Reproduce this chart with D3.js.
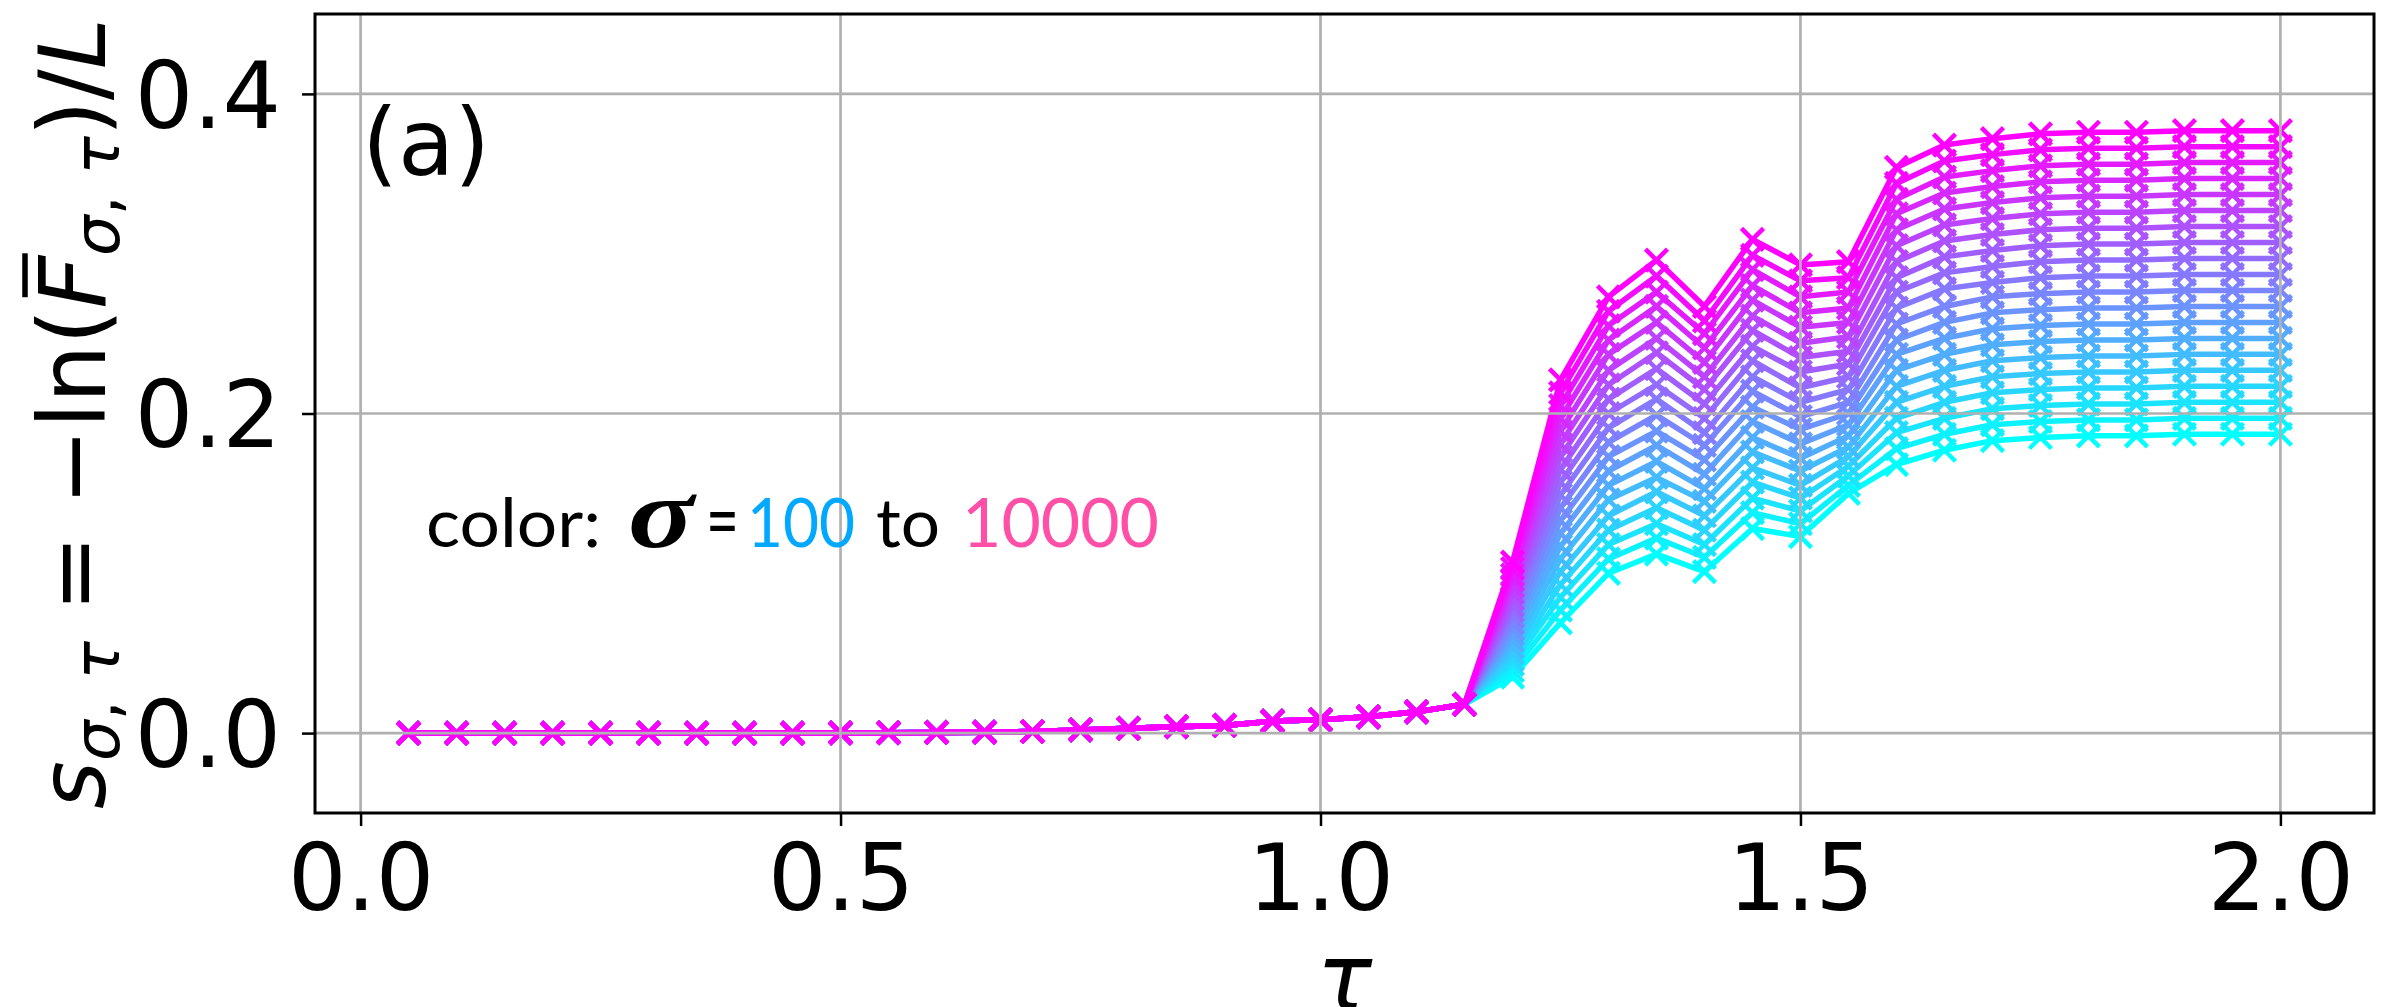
<!DOCTYPE html>
<html>
<head>
<meta charset="utf-8">
<script src="https://cdn.jsdelivr.net/npm/d3@7"></script>
<style>
  html, body { margin: 0; padding: 0; background: #fff; overflow: hidden; }
  svg { display: block; }
</style>
</head>
<body>
<svg id="chart" width="2382" height="1007"></svg>
<script>
// tau grid of the sweep
const tauValues = [0.05, 0.10, 0.15, 0.20, 0.25, 0.30, 0.35, 0.40, 0.45, 0.50,
                   0.55, 0.60, 0.65, 0.70, 0.75, 0.80, 0.85, 0.90, 0.95, 1.00,
                   1.05, 1.10, 1.15, 1.20, 1.25, 1.30, 1.35, 1.40, 1.45, 1.50,
                   1.55, 1.60, 1.65, 1.70, 1.75, 1.80, 1.85, 1.90, 1.95, 2.00];

// tau = 0.05 ... 1.15: every sigma gives the same rate
const onsetValues = [0.0000, 0.0000, 0.0000, 0.0000, 0.0000, 0.0000, 0.0000, 0.0000, 0.0000, 0.0001,
                     0.0002, 0.0004, 0.0006, 0.0010, 0.0020, 0.0030, 0.0040, 0.0048, 0.0075, 0.0083,
                     0.0102, 0.0133, 0.0180];

// tau = 1.20 ... 2.00: one value per sigma, from sigma = 100 (first) to sigma = 10000 (last)
const col120 = [0.035, 0.039, 0.043, 0.046, 0.050, 0.054, 0.058, 0.062, 0.065, 0.069, 0.073, 0.077, 0.080, 0.084, 0.088, 0.092, 0.096, 0.099, 0.103, 0.107];
const col125 = [0.069, 0.077, 0.085, 0.093, 0.101, 0.109, 0.117, 0.125, 0.133, 0.141, 0.149, 0.157, 0.165, 0.173, 0.181, 0.189, 0.197, 0.205, 0.213, 0.221];
const col130 = [0.100, 0.109, 0.118, 0.127, 0.136, 0.146, 0.155, 0.164, 0.173, 0.182, 0.191, 0.200, 0.209, 0.218, 0.227, 0.237, 0.246, 0.255, 0.264, 0.273];
const col135 = [0.112, 0.122, 0.131, 0.141, 0.151, 0.160, 0.170, 0.180, 0.189, 0.199, 0.209, 0.218, 0.228, 0.238, 0.247, 0.257, 0.267, 0.276, 0.286, 0.296];
const col140 = [0.101, 0.110, 0.118, 0.127, 0.136, 0.145, 0.153, 0.162, 0.171, 0.180, 0.188, 0.197, 0.206, 0.215, 0.223, 0.232, 0.241, 0.250, 0.258, 0.267];
const col145 = [0.128, 0.138, 0.147, 0.157, 0.166, 0.176, 0.185, 0.195, 0.204, 0.214, 0.223, 0.233, 0.242, 0.252, 0.261, 0.271, 0.280, 0.290, 0.299, 0.309];
const col150 = [0.123, 0.131, 0.139, 0.147, 0.155, 0.164, 0.172, 0.181, 0.190, 0.198, 0.207, 0.216, 0.226, 0.235, 0.244, 0.254, 0.263, 0.273, 0.283, 0.293];
const col155 = [0.150, 0.155, 0.161, 0.167, 0.173, 0.179, 0.186, 0.193, 0.200, 0.207, 0.215, 0.223, 0.231, 0.239, 0.248, 0.257, 0.266, 0.276, 0.285, 0.295];
const col160 = [0.168, 0.178, 0.188, 0.197, 0.207, 0.217, 0.227, 0.237, 0.246, 0.256, 0.266, 0.276, 0.285, 0.295, 0.305, 0.315, 0.325, 0.334, 0.344, 0.354];
const col165 = [0.177, 0.187, 0.197, 0.207, 0.217, 0.227, 0.237, 0.247, 0.257, 0.267, 0.278, 0.288, 0.298, 0.308, 0.318, 0.328, 0.338, 0.348, 0.358, 0.368];
const col170 = [0.183, 0.193, 0.203, 0.213, 0.223, 0.233, 0.243, 0.253, 0.263, 0.273, 0.282, 0.292, 0.302, 0.312, 0.322, 0.332, 0.342, 0.352, 0.362, 0.372];
const col175 = [0.185, 0.195, 0.205, 0.215, 0.225, 0.235, 0.245, 0.255, 0.265, 0.275, 0.285, 0.295, 0.305, 0.315, 0.325, 0.335, 0.345, 0.355, 0.365, 0.375];
const col180 = [0.186, 0.196, 0.206, 0.216, 0.226, 0.236, 0.246, 0.256, 0.266, 0.276, 0.286, 0.296, 0.306, 0.316, 0.326, 0.336, 0.346, 0.356, 0.366, 0.376];
const col185 = [0.186, 0.196, 0.206, 0.216, 0.226, 0.236, 0.246, 0.256, 0.266, 0.276, 0.286, 0.296, 0.306, 0.316, 0.326, 0.336, 0.346, 0.356, 0.366, 0.376];
const col190 = [0.187, 0.197, 0.207, 0.217, 0.227, 0.237, 0.247, 0.257, 0.267, 0.277, 0.287, 0.297, 0.307, 0.317, 0.327, 0.337, 0.347, 0.357, 0.367, 0.377];
const col195 = [0.187, 0.197, 0.207, 0.217, 0.227, 0.237, 0.247, 0.257, 0.267, 0.277, 0.287, 0.297, 0.307, 0.317, 0.327, 0.337, 0.347, 0.357, 0.367, 0.377];
const col200 = [0.187, 0.197, 0.207, 0.217, 0.227, 0.237, 0.247, 0.257, 0.267, 0.277, 0.287, 0.297, 0.307, 0.317, 0.327, 0.337, 0.347, 0.357, 0.367, 0.377];

const xTicks = [0.0, 0.5, 1.0, 1.5, 2.0];
const yTicks = [0.0, 0.2, 0.4];

// ---- assemble one series per sigma ----
const tailColumns = [col120, col125, col130, col135, col140, col145, col150, col155, col160,
                     col165, col170, col175, col180, col185, col190, col195, col200];
const nSeries = col120.length;
const series = d3.range(nSeries).map(i => {
  const vals = onsetValues.concat(tailColumns.map(c => c[i]));
  return tauValues.map((t, k) => ({ tau: t, s: vals[k] }));
});

// matplotlib "cool" colormap: cyan -> magenta
const cool = t => d3.rgb(Math.round(255 * t), Math.round(255 * (1 - t)), 255).formatHex();
const colorOf = i => cool(i / (nSeries - 1));

// ---- layout ----
const svg = d3.select("#chart");
const plot = { left: 315, right: 2374, top: 14, bottom: 813 };
const x = d3.scaleLinear().domain([-0.0475, 2.0975]).range([plot.left, plot.right]);
const y = d3.scaleLinear().domain([-0.05, 0.45]).range([plot.bottom, plot.top]);

svg.append("rect").attr("width", 2382).attr("height", 1007).attr("fill", "#fff");

// ---- data ----
const line = d3.line().x(d => x(d.tau)).y(d => y(d.s));
const marker = "M-11,-11L11,11M-11,11L11,-11";
const seriesG = svg.append("g");
series.forEach((pts, i) => {
  const g = seriesG.append("g");
  const c = colorOf(i);
  g.append("path").datum(pts)
    .attr("d", line)
    .attr("fill", "none")
    .attr("stroke", c)
    .attr("stroke-width", 5.5)
    .attr("stroke-linejoin", "round");
  g.selectAll("path.mk").data(pts).join("path")
    .attr("class", "mk")
    .attr("d", marker)
    .attr("transform", d => `translate(${x(d.tau)},${y(d.s)})`)
    .attr("stroke", c)
    .attr("stroke-width", 4.5)
    .attr("fill", "none");
});

// ---- grid (drawn above the curves) ----
const grid = svg.append("g").attr("stroke", "#b0b0b0").attr("stroke-width", 2.7);
grid.selectAll("line.gx").data(xTicks).join("line")
  .attr("x1", d => x(d)).attr("x2", d => x(d))
  .attr("y1", plot.top).attr("y2", plot.bottom);
grid.selectAll("line.gy").data(yTicks).join("line")
  .attr("y1", d => y(d)).attr("y2", d => y(d))
  .attr("x1", plot.left).attr("x2", plot.right);

// ---- axes ----
const fmt = d3.format(".1f");
const xAxis = svg.append("g")
  .attr("transform", `translate(0,${plot.bottom})`)
  .call(d3.axisBottom(x).tickValues(xTicks).tickFormat(fmt).tickSize(13).tickPadding(10));
const yAxis = svg.append("g")
  .attr("transform", `translate(${plot.left},0)`)
  .call(d3.axisLeft(y).tickValues(yTicks).tickFormat(fmt).tickSize(13).tickPadding(21));
[xAxis, yAxis].forEach(a => {
  a.select(".domain").remove();
  a.selectAll(".tick line").attr("stroke", "#000").attr("stroke-width", 2.5);
  a.selectAll(".tick text")
    .attr("fill", "#000")
    .style("font-family", "'DejaVu Sans'")
    .style("font-size", "92px");
});
xAxis.selectAll(".tick text").attr("dy", null).attr("y", 97);
yAxis.selectAll(".tick text").attr("dy", "0.36em");

// frame
svg.append("rect")
  .attr("x", plot.left).attr("y", plot.top)
  .attr("width", plot.right - plot.left).attr("height", plot.bottom - plot.top)
  .attr("fill", "none").attr("stroke", "#000").attr("stroke-width", 3);

// ---- axis titles ----
svg.append("text")
  .attr("x", (plot.left + plot.right) / 2).attr("y", 1010)
  .attr("text-anchor", "middle")
  .style("font-family", "'DejaVu Sans'").style("font-size", "92px").style("font-style", "italic")
  .text("τ");

const yl = svg.append("g").attr("transform", `translate(105,${(plot.top + plot.bottom) / 2}) rotate(-90)`);
const ylText = yl.append("text")
  .attr("text-anchor", "middle")
  .style("font-family", "'DejaVu Sans'").style("font-size", "92px");
const sub = 64, drop = 14;
const parts = [
  ["s", { italic: true }],
  ["σ", { italic: true, size: sub, dy: drop }],
  [", ", { size: sub }],
  ["τ", { italic: true, size: sub }],
  [" = −ln(", { dy: -drop }],
  ["F", { italic: true }],
  ["σ", { italic: true, size: sub, dy: drop }],
  [", ", { size: sub }],
  ["τ", { italic: true, size: sub }],
  [")/", { dy: -drop }],
  ["L", { italic: true }]
];
parts.forEach(([t, o]) => {
  const ts = ylText.append("tspan").text(t);
  if (o.italic) ts.style("font-style", "italic");
  if (o.size) ts.style("font-size", o.size + "px");
  if (o.dy) ts.attr("dy", o.dy);
});
// bar over F
const fIndex = "sσ, τ = −ln(".length;
const fBox = ylText.node().getExtentOfChar(fIndex);
yl.append("line")
  .attr("x1", fBox.x + fBox.width * 0.22).attr("x2", fBox.x + fBox.width * 1.05)
  .attr("y1", -80).attr("y2", -80)
  .attr("stroke", "#000").attr("stroke-width", 5.5);

// ---- panel tag ----
svg.append("text")
  .attr("x", 362).attr("y", 175)
  .style("font-family", "'DejaVu Sans'").style("font-size", "92px")
  .text("(a)");

// ---- colour note ----
const note = svg.append("g").style("font-family", "Lato, 'Open Sans', sans-serif").style("font-size", "67px");
note.append("text").attr("x", 426).attr("y", 547).attr("textLength", 175).attr("lengthAdjust", "spacingAndGlyphs")
  .attr("fill", "#000").text("color:");
note.append("text").attr("x", 628).attr("y", 547).attr("textLength", 66).attr("lengthAdjust", "spacingAndGlyphs")
  .style("font-family", "'Liberation Serif'").style("font-weight", "bold").style("font-style", "italic").style("font-size", "100px")
  .attr("fill", "#000").text("σ");
const range = note.append("text").attr("y", 547);
range.append("tspan").attr("x", 706).attr("dy", 2)
  .attr("textLength", 33).attr("lengthAdjust", "spacingAndGlyphs")
  .style("font-size", "80px").attr("fill", "#000").text("=");
range.append("tspan").attr("x", 747).attr("dy", -2)
  .attr("textLength", 108).attr("lengthAdjust", "spacingAndGlyphs")
  .attr("fill", "#00a9ff").text("100");
range.append("tspan").attr("x", 876)
  .attr("textLength", 64).attr("lengthAdjust", "spacingAndGlyphs")
  .attr("fill", "#000").text("to");
range.append("tspan").attr("x", 962)
  .attr("textLength", 197).attr("lengthAdjust", "spacingAndGlyphs")
  .attr("fill", "#ff4fa7").text("10000");
</script>
</body>
</html>
